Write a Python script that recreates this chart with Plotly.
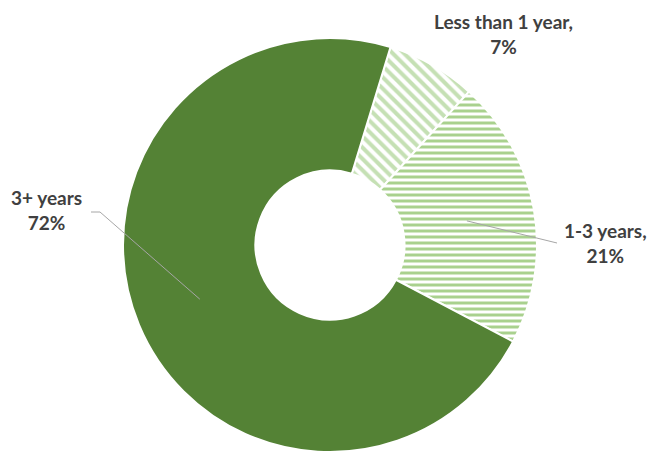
import math
import plotly.graph_objects as go

labels = ["Less than 1 year", "1-3 years", "3+ years"]
values = [7, 21, 72]
label_texts = ["Less than 1 year,<br>7%", "1-3 years,<br>21%", "3+ years<br>72%"]

W, H = 656, 453
cx, cy, R = 330, 245, 207
rotation = 17

fig = go.Figure(go.Pie(
    labels=labels, values=values, sort=False, direction="clockwise",
    rotation=rotation, hole=0.36, textinfo="none", hoverinfo="label+percent",
    domain=dict(x=[(cx - R) / W, (cx + R) / W], y=[(H - cy - R) / H, (H - cy + R) / H]),
    marker=dict(
        colors=["white", "white", "#548235"],
        line=dict(color="white", width=2),
        pattern=dict(shape=["\\", "-", ""], fgcolor=["#C5E0B4", "#A9D18E", "#548235"],
                     bgcolor=["white", "white", "#548235"], size=[8, 6, 6], solidity=[0.5, 0.5, 0.5],
                     fgopacity=1, fillmode="overlay"),
    ),
    showlegend=False,
))

# leader lines computed from slice mid-angles
total = sum(values)
start = rotation
mids = []
for v in values:
    span = v / total * 360
    mids.append(start + span / 2)
    start += span

def pt(angle_deg, r):
    a = math.radians(angle_deg)
    return cx + r * math.sin(a), cy - r * math.cos(a)

shapes = []
# 1-3 years
ax, ay = pt(mids[1], 139)
shapes.append(dict(type="line", xref="paper", yref="paper", x0=ax / W, y0=1 - ay / H,
                   x1=557 / W, y1=1 - 243 / H, line=dict(color="#A6A6A6", width=1)))
# 3+ years
bx, by = pt(mids[2], 141)
shapes.append(dict(type="path", xref="paper", yref="paper",
                   path=f"M {91/W},{1-212/H} L {100/W},{1-212/H} L {bx/W},{1-by/H}",
                   line=dict(color="#A6A6A6", width=1)))

font = dict(family="Lato, Carlito, Calibri, sans-serif", size=19, color="#404040")
ann_pos = [(503, 34), (605, 243), (46, 210)]
annotations = []
for txt, (x, y) in zip(label_texts, ann_pos):
    annotations.append(dict(text=f"<b>{txt}</b>", x=x / W, y=1 - y / H, xref="paper", yref="paper",
                            showarrow=False, font=font, align="center",
                            xanchor="center", yanchor="middle"))

fig.update_layout(width=W, height=H, margin=dict(l=0, r=0, t=0, b=0),
                  paper_bgcolor="white", plot_bgcolor="white",
                  shapes=shapes, annotations=annotations)
fig.write_html("out.html")
